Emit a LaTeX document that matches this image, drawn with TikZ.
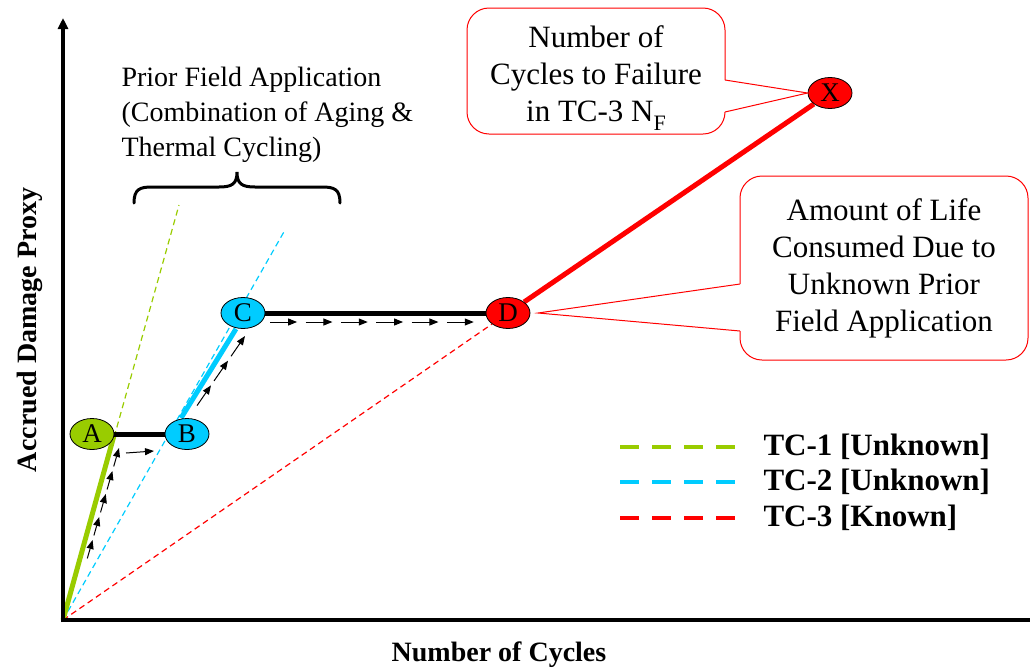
\documentclass[tikz,border=0pt]{standalone}
\usepackage{fontspec}
\setmainfont{Liberation Serif}
\usetikzlibrary{arrows.meta,shapes.geometric,calc,backgrounds}
\definecolor{tcgreen}{RGB}{153,204,0}
\definecolor{tccyan}{RGB}{0,204,255}
\definecolor{tcred}{RGB}{255,0,0}
\newcommand{\fsz}[2]{\fontsize{#1}{#2}\selectfont}
\begin{document}
\begin{tikzpicture}[x=1pt,y=-1pt,
  state/.style={ellipse, draw=black, line width=0.8pt, minimum width=44pt,
    minimum height=31pt, inner sep=0pt, font=\fsz{27}{27}},
  axis/.style={line width=3.5pt, black},
  seg/.style={line width=5pt},
  guide/.style={line width=1.2pt, dash pattern=on 6pt off 4pt},
  hop/.style={-{Triangle[length=9pt,width=7pt]}, line width=1pt, black},
  bubble/.style={draw=tcred, line width=1pt, fill=white, rounded corners=22pt, inner sep=0pt},
  bubbletext/.style={align=center, font=\fsz{31}{37}},
  legendline/.style={line width=4pt, dash pattern=on 19pt off 13pt},
  legendtext/.style={anchor=west, font=\bfseries\fsz{31}{36}},
  axislabel/.style={font=\bfseries\fsz{28}{28}}]
\useasboundingbox (0,0) rectangle (1030,670);

% axes
\coordinate (O) at (63,620);
\coordinate (ytop) at (63,18);
\coordinate (xend) at (1030,620);
\draw[axis, -{Triangle[length=11pt,width=10pt]}] (63,622) -- (ytop);
\draw[axis] (61.25,620) -- (xend);

% damage states
\node[state, fill=tcgreen] (A) at (92,434) {A};
\node[state, fill=tccyan] (B) at (187,434) {B};
\node[state, fill=tccyan] (C) at (243,313) {C};
\node[state, fill=tcred] (D) at (508,313) {D};
\node[state, fill=tcred] (X) at (830,93) {X};

% damage paths under the states
\coordinate (g1end) at (179,205);
\coordinate (g2end) at (285,230);
\begin{scope}[on background layer]
  \draw[guide, tcgreen] (O) -- (g1end);
  \draw[guide, tccyan] (O) -- (g2end);
  \draw[guide, tcred] (O) -- (D);
  \draw[seg, tcgreen] (O) -- (A.east);
  \draw[seg, black] (A.east) -- (B.west);
  \draw[seg, tccyan] ([xshift=-6pt]B.north) -- ([xshift=-7pt]C.south);
  \draw[seg, black] (C) -- (D);
  \draw[seg, tcred] (D) -- (X);
\end{scope}

% progression arrows
\coordinate (h0) at (86,563);
\coordinate (h1) at (119,448);
\foreach \i in {0,...,4}
  \draw[hop] ($(h0)!{\i/5+0.04}!(h1)$) -- ($(h0)!{(\i+1)/5}!(h1)$);
\coordinate (h2) at (126,453);
\coordinate (h3) at (154,451);
\draw[hop] (h2) -- (h3);
\coordinate (h4) at (194,410);
\coordinate (h5) at (245,336);
\foreach \i in {0,...,2}
  \draw[hop] ($(h4)!{\i/3+0.06}!(h5)$) -- ($(h4)!{(\i+1)/3}!(h5)$);
\coordinate (h6) at (266,322);
\coordinate (h7) at (478,322);
\foreach \i in {0,...,5}
  \draw[hop] ($(h6)!{\i/6+0.02}!(h7)$) -- ($(h6)!{(\i+1)/6-0.02}!(h7)$);

% prior field application note with brace
\node[anchor=west, align=left, font=\fsz{28}{35}] (prior) at (118,115)
  {Prior Field Application\\(Combination of Aging \&\\Thermal Cycling)};
\draw[line width=3pt, line cap=round]
  (134,203) .. controls (134,189) and (140,187) .. (152,187) -- (219,187)
  .. controls (232,187) and (237,184) .. (237,172)
  .. controls (237,184) and (242,187) .. (255,187) -- (322,187)
  .. controls (334,187) and (340,189) .. (340,203);

% callout: cycles to failure
\node[bubble, minimum width=258pt, minimum height=126pt] (nfbox) at (596,71) {};
\fill[white] (724,80) -- (X.west) -- (724,112) -- cycle;
\draw[tcred, line width=1pt] (725,80) -- (X.west) -- (725,112);
\node[bubbletext] (nftext) at (596,78)
  {Number of\\Cycles to Failure\\in TC-3 N\raisebox{-9pt}{\fsz{22}{22}F}};

% callout: consumed life
\coordinate (dtip) at (538,313);
\node[bubble, minimum width=288pt, minimum height=184pt] (lifebox) at (884,268) {};
\fill[white] (741,284) -- (dtip) -- (741,331) -- cycle;
\draw[tcred, line width=1pt] (740,284) -- (dtip) -- (740,331);
\node[bubbletext] (lifetext) at (884,268)
  {Amount of Life\\Consumed Due to\\Unknown Prior\\Field Application};

% legend
\coordinate (l1a) at (620,447); \coordinate (l1b) at (736,447);
\coordinate (l2a) at (620,482); \coordinate (l2b) at (736,482);
\coordinate (l3a) at (620,518); \coordinate (l3b) at (736,518);
\draw[legendline, tcgreen] (l1a) -- (l1b);
\draw[legendline, tccyan] (l2a) -- (l2b);
\draw[legendline, tcred] (l3a) -- (l3b);
\node[legendtext] (leg1) at (760,447) {TC-1 [Unknown]};
\node[legendtext] (leg2) at (760,482) {TC-2 [Unknown]};
\node[legendtext] (leg3) at (760,518) {TC-3 [Known]};

% axis labels
\node[axislabel] (xlab) at (499,655) {Number of Cycles};
\node[axislabel, rotate=90] (ylab) at (30,330) {Accrued Damage Proxy};
\end{tikzpicture}
\end{document}
